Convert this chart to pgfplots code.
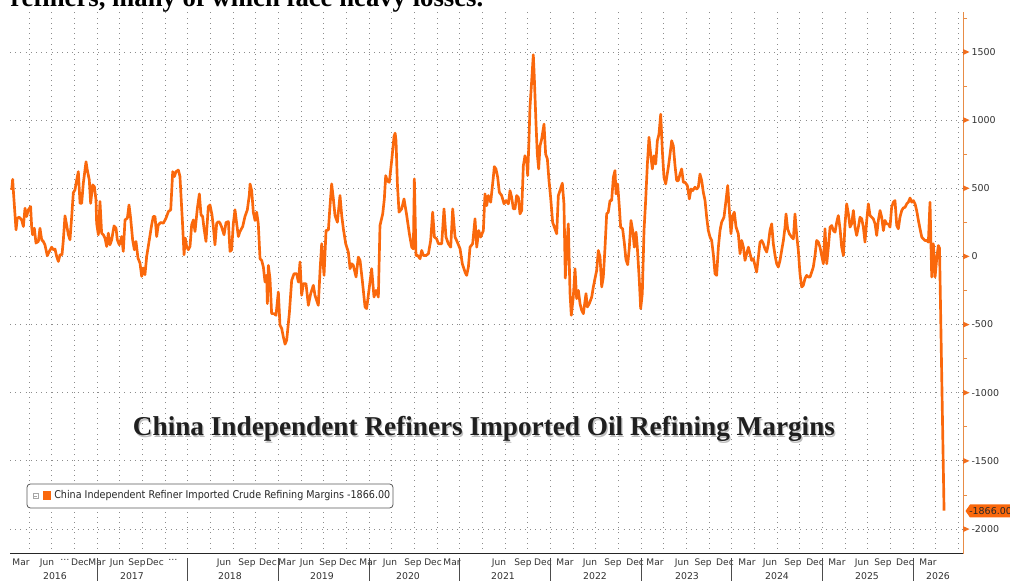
\documentclass[border=0pt]{standalone}
\usepackage{fontspec}
\usepackage{graphicx}
\usepackage{pgfplots}
\usepackage{pgfplotstable}
\pgfplotsset{compat=1.18}
\newfontfamily\tahoma{DejaVu Sans}
\newfontfamily\tnr{Liberation Serif}
\definecolor{lineor}{RGB}{250,104,12}
\definecolor{axisor}{RGB}{232,140,70}
\definecolor{tickor}{RGB}{240,110,30}
\definecolor{gridgray}{RGB}{140,140,140}
\definecolor{labgray}{RGB}{50,50,50}

\pgfplotstableread{
t v
2016.059 488
2016.070 566
2016.077 488
2016.107 195
2016.121 281
2016.143 288
2016.169 268
2016.188 220
2016.206 354
2016.224 293
2016.243 342
2016.268 366
2016.279 220
2016.290 159
2016.309 207
2016.327 98
2016.353 110
2016.371 207
2016.390 122
2016.408 110
2016.426 85
2016.452 5
2016.474 37
2016.500 68
2016.518 49
2016.537 54
2016.555 0
2016.574 -37
2016.592 12
2016.614 12
2016.629 122
2016.647 298
2016.665 232
2016.684 159
2016.702 122
2016.721 293
2016.739 468
2016.757 488
2016.776 561
2016.794 622
2016.813 390
2016.831 390
2016.849 537
2016.879 695
2016.893 634
2016.915 561
2016.930 390
2016.952 525
2016.971 512
2016.989 415
2016.996 244
2017.015 159
2017.033 403
2017.051 171
2017.070 159
2017.088 134
2017.107 73
2017.125 171
2017.143 85
2017.162 122
2017.188 224
2017.210 207
2017.224 122
2017.246 85
2017.272 146
2017.290 37
2017.309 268
2017.335 281
2017.353 378
2017.371 281
2017.393 122
2017.412 49
2017.430 110
2017.452 -12
2017.474 -49
2017.493 -146
2017.511 -85
2017.529 -134
2017.548 0
2017.577 122
2017.603 232
2017.621 293
2017.640 293
2017.658 146
2017.676 232
2017.702 249
2017.732 244
2017.761 281
2017.787 329
2017.813 342
2017.835 622
2017.853 586
2017.871 622
2017.897 634
2017.915 586
2017.945 220
2017.960 12
2017.974 134
2017.989 73
2018.007 49
2018.026 73
2018.044 232
2018.063 268
2018.081 183
2018.107 354
2018.129 459
2018.147 305
2018.165 293
2018.180 207
2018.202 110
2018.228 366
2018.246 378
2018.268 305
2018.283 220
2018.301 85
2018.320 244
2018.342 256
2018.357 244
2018.375 215
2018.401 159
2018.423 249
2018.449 256
2018.467 37
2018.485 49
2018.504 244
2018.522 342
2018.540 244
2018.559 146
2018.577 183
2018.607 220
2018.632 293
2018.658 342
2018.680 451
2018.688 532
2018.706 483
2018.724 325
2018.743 264
2018.761 325
2018.779 239
2018.798 -17
2018.816 -29
2018.835 -78
2018.853 -188
2018.871 -139
2018.879 -346
2018.890 -66
2018.908 -163
2018.926 -420
2018.952 -420
2018.974 -432
2019.000 -261
2019.018 -505
2019.037 -529
2019.055 -590
2019.074 -644
2019.092 -615
2019.121 -420
2019.147 -176
2019.173 -127
2019.202 -127
2019.221 -188
2019.239 -41
2019.257 -285
2019.276 -200
2019.305 -200
2019.331 -359
2019.357 -273
2019.386 -212
2019.404 -285
2019.441 -359
2019.460 -102
2019.478 93
2019.504 -139
2019.526 190
2019.552 195
2019.570 373
2019.588 532
2019.607 422
2019.625 300
2019.651 251
2019.680 447
2019.699 300
2019.717 203
2019.743 93
2019.772 32
2019.791 -90
2019.809 -54
2019.827 -66
2019.857 -151
2019.882 -5
2019.901 -29
2019.926 -176
2019.956 -371
2019.974 -383
2020.004 -224
2020.029 -90
2020.055 -298
2020.077 -249
2020.103 -298
2020.121 227
2020.151 312
2020.169 422
2020.184 593
2020.202 554
2020.224 544
2020.250 703
2020.276 880
2020.288 905
2020.298 849
2020.313 532
2020.331 325
2020.360 349
2020.386 422
2020.416 300
2020.445 166
2020.471 68
2020.489 56
2020.500 569
2020.518 7
2020.537 7
2020.563 -17
2020.581 44
2020.599 7
2020.629 7
2020.655 20
2020.680 117
2020.702 325
2020.721 142
2020.746 129
2020.765 93
2020.802 93
2020.827 349
2020.849 142
2020.875 93
2020.901 68
2020.923 349
2020.949 142
2020.974 105
2021.004 56
2021.029 -54
2021.059 -115
2021.077 -139
2021.096 -78
2021.114 68
2021.143 93
2021.169 276
2021.188 68
2021.210 190
2021.232 142
2021.261 190
2021.279 459
2021.298 373
2021.316 447
2021.342 398
2021.371 581
2021.382 659
2021.400 642
2021.419 581
2021.437 471
2021.463 447
2021.489 386
2021.511 410
2021.537 386
2021.555 483
2021.573 434
2021.592 349
2021.610 349
2021.628 447
2021.647 434
2021.665 312
2021.684 337
2021.702 666
2021.720 739
2021.739 703
2021.750 593
2021.764 849
2021.775 1093
2021.794 1288
2021.812 1480
2021.823 1313
2021.842 971
2021.856 751
2021.871 642
2021.886 812
2021.904 861
2021.930 971
2021.948 751
2021.967 715
2021.985 556
2022.003 434
2022.025 251
2022.044 215
2022.070 166
2022.088 447
2022.106 483
2022.132 537
2022.150 386
2022.165 -159
2022.180 49
2022.198 239
2022.217 -273
2022.231 -432
2022.253 -298
2022.272 -90
2022.290 -310
2022.309 -249
2022.327 -346
2022.345 -395
2022.364 -420
2022.393 -273
2022.408 -371
2022.430 -346
2022.456 -298
2022.474 -224
2022.492 -163
2022.511 -102
2022.529 44
2022.548 -5
2022.566 -224
2022.584 -151
2022.603 68
2022.621 312
2022.639 325
2022.658 410
2022.676 410
2022.695 581
2022.713 630
2022.724 459
2022.742 532
2022.761 361
2022.775 215
2022.797 203
2022.816 98
2022.834 -24
2022.853 -61
2022.871 68
2022.889 264
2022.908 190
2022.926 68
2022.945 178
2022.959 68
2022.981 -176
2022.996 -383
2023.014 -273
2023.033 190
2023.051 410
2023.070 678
2023.088 874
2023.106 751
2023.125 642
2023.143 739
2023.162 678
2023.180 849
2023.198 898
2023.217 1044
2023.235 776
2023.253 581
2023.272 532
2023.301 654
2023.320 751
2023.338 849
2023.356 812
2023.375 666
2023.393 556
2023.411 556
2023.430 605
2023.448 642
2023.467 544
2023.485 544
2023.511 520
2023.533 422
2023.551 495
2023.570 483
2023.595 508
2023.614 495
2023.632 508
2023.650 605
2023.669 556
2023.687 471
2023.706 410
2023.724 288
2023.742 190
2023.761 142
2023.779 117
2023.798 12
2023.816 -127
2023.834 -139
2023.853 68
2023.871 190
2023.889 251
2023.915 288
2023.937 410
2023.956 520
2023.974 337
2023.992 166
2024.011 300
2024.029 325
2024.048 215
2024.073 166
2024.092 20
2024.110 117
2024.129 68
2024.147 -29
2024.165 20
2024.184 68
2024.202 20
2024.220 -29
2024.239 -17
2024.257 -66
2024.275 -115
2024.294 -5
2024.312 105
2024.331 117
2024.349 93
2024.367 56
2024.386 32
2024.404 93
2024.422 190
2024.441 239
2024.459 93
2024.478 7
2024.496 -54
2024.514 -78
2024.533 -29
2024.551 44
2024.570 117
2024.588 215
2024.599 312
2024.617 203
2024.636 166
2024.661 142
2024.680 129
2024.698 312
2024.717 154
2024.735 44
2024.753 -127
2024.772 -224
2024.790 -212
2024.808 -163
2024.827 -139
2024.845 -151
2024.864 -151
2024.882 -115
2024.900 -78
2024.919 7
2024.937 117
2024.956 105
2024.974 68
2024.992 7
2025.011 -54
2025.029 203
2025.048 -54
2025.066 68
2025.085 215
2025.103 227
2025.121 190
2025.140 178
2025.158 251
2025.176 300
2025.195 203
2025.213 68
2025.232 7
2025.250 239
2025.268 386
2025.287 312
2025.305 215
2025.323 239
2025.342 337
2025.360 215
2025.378 154
2025.397 215
2025.415 288
2025.434 276
2025.452 215
2025.470 105
2025.489 264
2025.507 386
2025.526 300
2025.544 288
2025.562 276
2025.581 239
2025.599 154
2025.617 264
2025.636 337
2025.654 288
2025.673 190
2025.691 264
2025.709 239
2025.728 239
2025.746 215
2025.764 361
2025.783 398
2025.801 410
2025.820 227
2025.838 203
2025.856 288
2025.875 337
2025.893 356
2025.912 361
2025.930 386
2025.948 398
2025.967 429
2025.985 398
2026.004 410
2026.022 386
2026.040 337
2026.059 264
2026.077 203
2026.096 142
2026.114 129
2026.132 117
2026.151 117
2026.169 105
2026.187 398
2026.206 -151
2026.224 93
2026.243 -151
2026.261 -17
2026.279 80
2026.292 60
2026.342 -1866
}\margins

\begin{document}
\begin{tikzpicture}
\fill[white] (0,0) rectangle (757.5pt,435.75pt);
\begin{axis}[
  at={(7.5pt,20.25pt)}, anchor=south west,
  scale only axis, width=714.75pt, height=406.5pt,
  xmin=2016.0405, xmax=2026.551, ymin=-2184, ymax=1794,
  axis x line*=bottom, axis y line*=right,
  x axis line style={-, draw=black!85, line width=0.75pt},
  y axis line style={-, draw=axisor, line width=0.75pt},
  xtick={2016.25,2016.5,2016.75,2017,2017.25,2017.5,2017.75,2018,2018.25,2018.5,2018.75,2019,2019.25,2019.5,2019.75,2020,2020.25,2020.5,2020.75,2021,2021.25,2021.5,2021.75,2022,2022.25,2022.5,2022.75,2023,2023.25,2023.5,2023.75,2024,2024.25,2024.5,2024.75,2025,2025.25,2025.5,2025.75,2026,2026.25,2026.5},
  xticklabels={},
  ytick={-2000,-1500,-1000,-500,0,500,1000,1500},
  yticklabels={-2000,-1500,-1000,-500,0,500,1000,1500},
  minor ytick={-1750,-1250,-750,-250,250,750,1250,1750},
  grid=major,
  major grid style={draw=gridgray, line width=0.55pt, dash pattern=on 0.6pt off 3.3pt},
  tick align=outside,
  major tick length=0pt, minor tick length=3pt,
  minor tick style={draw=axisor, line width=0.5pt},
  extra x ticks={2016.162,2016.449,2016.647,2016.812,2017.000,2017.221,2017.441,2017.640,2017.838,2018.401,2018.654,2018.886,2019.096,2019.316,2019.548,2019.768,2019.989,2020.232,2020.485,2020.706,2020.915,2021.434,2021.698,2021.919,2022.162,2022.437,2022.691,2022.934,2023.154,2023.452,2023.684,2023.926,2024.169,2024.423,2024.676,2024.919,2025.161,2025.437,2025.669,2025.911,2026.165},
  extra x tick labels={Mar,Jun,{\ldots},Dec,Mar,Jun,Sep,Dec,{\ldots},Jun,Sep,Dec,Mar,Jun,Sep,Dec,Mar,Jun,Sep,Dec,Mar,Jun,Sep,Dec,Mar,Jun,Sep,Dec,Mar,Jun,Sep,Dec,Mar,Jun,Sep,Dec,Mar,Jun,Sep,Dec,Mar},
  extra x tick style={grid=none},
  ticklabel style={font=\tahoma\fontsize{6.8}{8}\selectfont, text=labgray},
  xticklabel style={inner sep=0pt, yshift=-3.6pt},
  yticklabel style={anchor=west, inner sep=0pt, xshift=6.2pt, font=\tahoma\fontsize{7.1}{8}\selectfont},
]
\addplot[lineor, line width=2pt, line join=round, no marks] table[x=t, y=v]{\margins};
\end{axis}
\begin{scope}[shift={(0pt,435.75pt)}, x=0.75pt, y=-0.75pt]
  % y tick triangles (px positions of the major ticks)
  \foreach \yy in {52,120.1,188.3,256.4,324.6,392.7,460.9,529.1}{
    \fill[tickor] (963,\yy-3) -- (969.5,\yy) -- (963,\yy+3) -- cycle;
  }
  % year separators
  \foreach \xx in {97,187.7,278.3,369,459.7,550.3,641,731.7,822.3,913}{
    \draw[black!70, line width=0.5pt] (\xx,558) -- (\xx,583);
  }
  % year labels
  \foreach \xx/\yy in {55/2016,132/2017,230/2018,322/2019,408/2020,503/2021,595/2022,687/2023,777/2024,867/2025,938/2026}{
    \node[font=\tahoma\fontsize{7}{8}\selectfont, text=labgray, inner sep=0pt] at (\xx,576) {\yy};
  }
  % last value label
  \fill[lineor] (965.5,511) -- (970,504.5) -- (1015,504.5) -- (1015,517.5) -- (970,517.5) -- cycle;
  \node[anchor=west, inner sep=0pt, font=\tahoma\fontsize{7.1}{8}\selectfont, text=black!85] at (969,511.3) {-1866.00};
  % legend
  \draw[draw=black!65, fill=white, rounded corners=2.5pt, line width=0.6pt] (27,484) rectangle (393,508);
  \draw[gray!70, line width=0.4pt] (33,493.5) rectangle (38,498.5);
  \draw[gray!70, line width=0.4pt] (34.2,496) -- (36.8,496);
  \fill[lineor] (43,491.5) rectangle (50.5,500);
  \node[anchor=west, inner sep=0pt, text=black!85] at (54,496) {\resizebox{252pt}{6.1pt}{\tahoma\fontsize{8.5}{9.5}\selectfont China Independent Refiner Imported Crude Refining Margins -1866.00}};
  % chart title with shadow
  \node[anchor=base, inner sep=0pt, text=black!25] at (485.2,437.2) {\resizebox{526.5pt}{!}{\tnr\bfseries China Independent Refiners Imported Oil Refining Margins}};
  \node[anchor=base, inner sep=0pt, text=black!88] at (484,436) {\resizebox{526.5pt}{!}{\tnr\bfseries China Independent Refiners Imported Oil Refining Margins}};
  % cropped header text
  \node[anchor=base west, inner sep=0pt, text=black] at (10,7) {\resizebox{354.75pt}{!}{\tnr\bfseries refiners, many of which face heavy losses.}};
\end{scope}
\pgfresetboundingbox
\useasboundingbox (0,0) rectangle (757.5pt,435.75pt);
\end{tikzpicture}
\end{document}
